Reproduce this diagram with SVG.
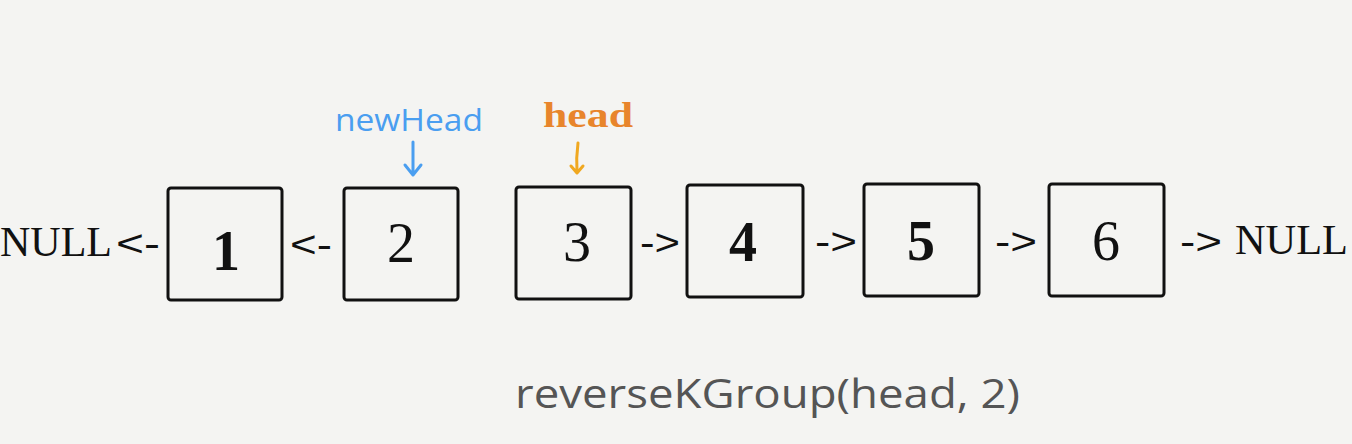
<svg xmlns="http://www.w3.org/2000/svg" width="1352" height="444" viewBox="0 0 1352 444">
<style>
.box{fill:none;stroke:#111;stroke-width:3;}
.num{font-family:"Liberation Serif","DejaVu Serif",serif;font-size:56px;fill:#111;text-anchor:middle;}
.lbl{font-family:"Liberation Serif","DejaVu Serif",serif;font-size:42px;fill:#111;}
.arw{font-family:"Liberation Sans","DejaVu Sans",sans-serif;font-size:36px;fill:#111;}
.ptr{fill:none;stroke-width:3;stroke-linecap:round;stroke-linejoin:round;}
</style>
<rect width="1352" height="444" fill="#f4f4f2"/>
<g id="connectors">
<text class="lbl" x="0" y="256" textLength="112" lengthAdjust="spacingAndGlyphs">NULL</text>
<text class="arw" x="116" y="256" textLength="44" lengthAdjust="spacingAndGlyphs">&lt;-</text>
<text class="arw" x="290" y="257" textLength="42" lengthAdjust="spacingAndGlyphs">&lt;-</text>
<text class="arw" x="640" y="255" textLength="40" lengthAdjust="spacingAndGlyphs">-&gt;</text>
<text class="arw" x="815" y="254" textLength="42" lengthAdjust="spacingAndGlyphs">-&gt;</text>
<text class="arw" x="995" y="254" textLength="42" lengthAdjust="spacingAndGlyphs">-&gt;</text>
<text class="arw" x="1180" y="254" textLength="42" lengthAdjust="spacingAndGlyphs">-&gt;</text>
<text class="lbl" x="1235" y="254" textLength="113" lengthAdjust="spacingAndGlyphs">NULL</text>
</g>
<g id="node1"><rect class="box" x="168" y="188" width="114" height="112" rx="3"/><text class="num" x="226" y="270" font-weight="bold">1</text></g>
<g id="node2"><rect class="box" x="344" y="188" width="114" height="112" rx="3"/><text class="num" x="401" y="262">2</text></g>
<g id="node3"><rect class="box" x="516" y="187" width="115" height="112" rx="3"/><text class="num" x="577" y="261">3</text></g>
<g id="node4"><rect class="box" x="687" y="185" width="116" height="112" rx="3"/><text class="num" x="743" y="261" font-weight="bold">4</text></g>
<g id="node5"><rect class="box" x="864" y="184" width="115" height="112" rx="3"/><text class="num" x="921" y="260" font-weight="bold">5</text></g>
<g id="node6"><rect class="box" x="1049" y="184" width="115" height="112" rx="3"/><text class="num" x="1106" y="260">6</text></g>
<g id="newHead">
<text x="335" y="131" font-family="Open Sans, Noto Sans, sans-serif" font-size="31" fill="#4a9ef0" textLength="148" lengthAdjust="spacingAndGlyphs">newHead</text>
<path class="ptr" stroke="#4a9ef0" d="M413 142 L413 174 M405 165 L413 175 L421 165"/>
</g>
<g id="head">
<text x="543" y="127" font-family="Liberation Serif, serif" font-weight="bold" font-size="36" fill="#e8852c" textLength="90" lengthAdjust="spacingAndGlyphs">head</text>
<path class="ptr" stroke="#f0a820" d="M578 143 Q576 158 577 172 M571 166 L577 173 L583 166"/>
</g>
<g id="caption">
<text x="515" y="408" font-family="Open Sans, Noto Sans, sans-serif" font-size="40" fill="#555" textLength="505" lengthAdjust="spacingAndGlyphs">reverseKGroup(head, 2)</text>
</g>
</svg>
